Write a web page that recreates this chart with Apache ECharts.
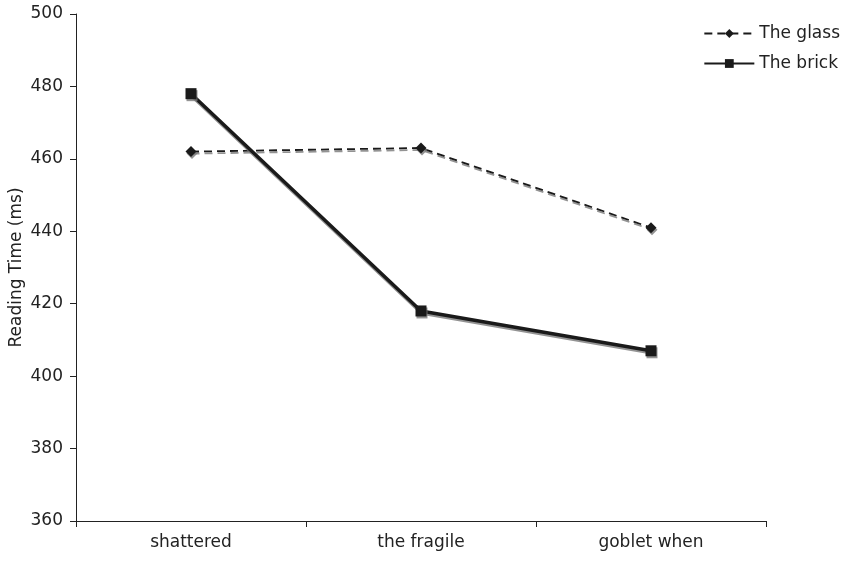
<!DOCTYPE html>
<html><head><meta charset="utf-8">
<script src="https://cdn.jsdelivr.net/npm/echarts@6/dist/echarts.min.js"></script>
<style>html,body{margin:0;padding:0;background:#fff}#c{width:842px;height:561px}</style>
</head><body><div id="c"></div>
<script>
const categories = ['shattered', 'the fragile', 'goblet when'];
const glassValues = [462, 463, 441];
const brickValues = [478, 418, 407];
const yTicks = [360, 380, 400, 420, 440, 460, 480, 500];

const font = 'DejaVu Sans';
const chart = echarts.init(document.getElementById('c'), null, {renderer: 'canvas'});
chart.setOption({
  animation: false,
  backgroundColor: '#fff',
  textStyle: {fontFamily: font},
  grid: {left: 76, right: 76, top: 14, bottom: 40, containLabel: false, outerBoundsMode: 'none'},
  legend: {
    orient: 'vertical', right: 2, top: 25, padding: 0,
    itemWidth: 50, itemHeight: 11, itemGap: 13,
    textStyle: {fontFamily: font, fontSize: 17, color: '#222'},
    data: ['The glass', 'The brick']
  },
  xAxis: {
    type: 'category', data: categories, boundaryGap: true,
    axisLine: {lineStyle: {color: '#222', width: 1}},
    axisTick: {show: true, length: 6, lineStyle: {color: '#222'}},
    axisLabel: {fontFamily: font, fontSize: 17, color: '#222', margin: 13}
  },
  yAxis: {
    type: 'value', min: yTicks[0], max: yTicks[yTicks.length - 1], interval: 20,
    name: 'Reading Time (ms)', nameLocation: 'middle', nameGap: 51, nameMoveOverlap: false,
    nameTextStyle: {fontFamily: font, fontSize: 17, color: '#222'},
    axisLine: {show: true, lineStyle: {color: '#222', width: 1}},
    axisTick: {show: true, length: 6, lineStyle: {color: '#222'}},
    axisLabel: {fontFamily: font, fontSize: 17, color: '#222', margin: 13},
    splitLine: {show: false}
  },
  series: [
    {
      name: 'The glass', type: 'line', data: glassValues,
      symbol: 'diamond', symbolSize: 11,
      lineStyle: {color: '#1a1a1a', width: 1.8, type: [8, 5],
        shadowColor: 'rgba(120,120,120,0.8)', shadowOffsetY: 2, shadowOffsetX: 0.5, shadowBlur: 0},
      itemStyle: {color: '#1a1a1a',
        shadowColor: 'rgba(120,120,120,0.8)', shadowOffsetY: 2, shadowOffsetX: 1, shadowBlur: 0},
      z: 3
    },
    {
      name: 'The brick', type: 'line', data: brickValues,
      symbol: 'rect', symbolSize: 11,
      lineStyle: {color: '#1a1a1a', width: 3.5,
        shadowColor: 'rgba(120,120,120,0.8)', shadowOffsetY: 2, shadowOffsetX: 0.5, shadowBlur: 0},
      itemStyle: {color: '#1a1a1a',
        shadowColor: 'rgba(120,120,120,0.8)', shadowOffsetY: 2, shadowOffsetX: 1, shadowBlur: 0},
      z: 4
    }
  ]
});
</script></body></html>
